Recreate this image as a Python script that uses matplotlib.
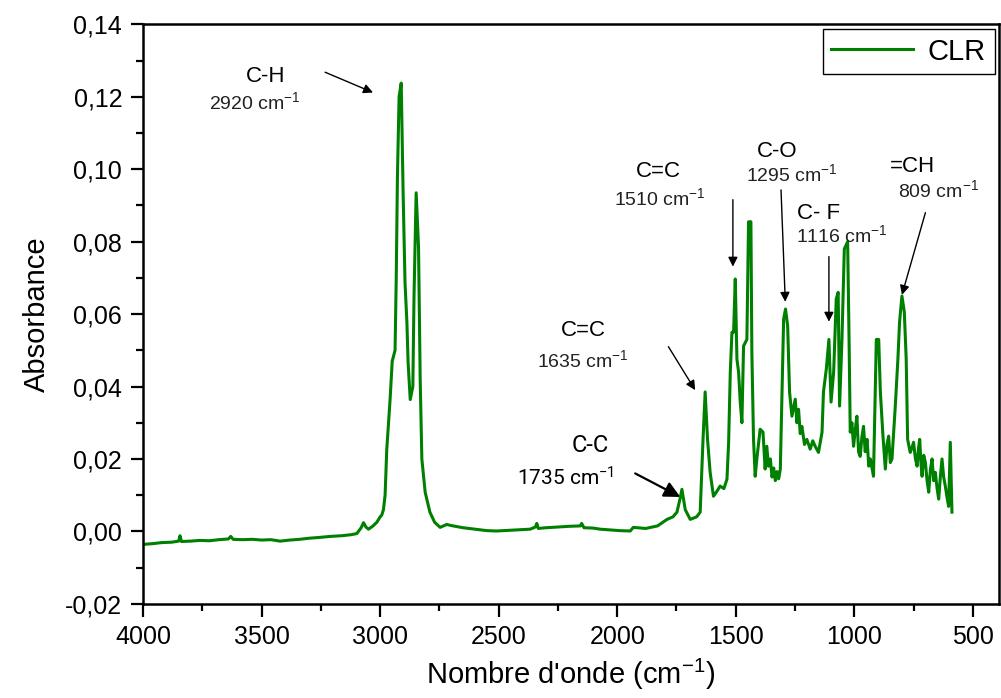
import matplotlib
matplotlib.use('Agg')
import matplotlib.pyplot as plt
from matplotlib.ticker import MultipleLocator

plt.rcParams['font.family'] = ['Liberation Sans', 'DejaVu Sans']
plt.rcParams['mathtext.default'] = 'regular'

# FTIR spectrum of CLR (wavenumber in cm-1, absorbance)
wavenumber = [
    4000, 3960, 3920, 3880, 3850, 3844, 3838, 3800, 3760, 3720, 3680, 3640, 3630, 3620,
    3580, 3540, 3500, 3460, 3422, 3380, 3340, 3300, 3260, 3211, 3160, 3120, 3098, 3080,
    3070, 3060, 3049, 3030, 3014, 3000, 2993, 2986, 2979, 2972, 2958, 2949, 2937, 2932,
    2927, 2920, 2911, 2903, 2895, 2887, 2882, 2873, 2862, 2857, 2848, 2838, 2831, 2824,
    2810, 2790, 2770, 2747, 2719, 2700, 2650, 2600, 2550, 2508, 2450, 2400, 2367, 2345,
    2339, 2333, 2300, 2250, 2200, 2156, 2150, 2140, 2100, 2072, 2030, 1990, 1945, 1932,
    1880, 1830, 1790, 1765, 1748, 1735, 1727, 1713, 1692, 1665, 1650, 1638, 1629, 1619,
    1608, 1594, 1580, 1566, 1550, 1537, 1530, 1523, 1516, 1509, 1502, 1495, 1488, 1481,
    1474, 1467, 1453, 1446, 1436, 1432, 1425, 1418, 1411, 1397, 1385, 1376, 1369, 1362,
    1354, 1347, 1340, 1333, 1326, 1319, 1312, 1305, 1298, 1290, 1281, 1273, 1263, 1249,
    1242, 1235, 1228, 1221, 1210, 1200, 1186, 1175, 1165, 1151, 1136, 1130, 1118, 1107,
    1098, 1087, 1076, 1068, 1062, 1052, 1042, 1028, 1022, 1017, 1010, 1003, 996, 989,
    982, 975, 968, 961, 954, 946, 939, 932, 919, 907, 897, 890, 879, 869,
    862, 855, 848, 841, 827, 816, 809, 799, 789, 781, 775, 764, 757, 750,
    742, 735, 729, 724, 719, 714, 707, 700, 693, 686, 679, 672, 665, 658,
    651, 644, 637, 630, 623, 616, 609, 602, 595, 588,
]
absorbance = [
    -0.0036, -0.0034, -0.0031, -0.0030, -0.0027, -0.0012, -0.0028, -0.0027, -0.0025, -0.0026, -0.0023, -0.0021, -0.0014, -0.0022,
    -0.0023, -0.0022, -0.0024, -0.0023, -0.0027, -0.0024, -0.0022, -0.0019, -0.0017, -0.0014, -0.0012, -0.0009, -0.0006, 0.0010,
    0.0024, 0.0012, 0.0006, 0.0015, 0.0025, 0.0040, 0.0045, 0.0060, 0.0100, 0.0226, 0.0364, 0.0470, 0.0500, 0.0700,
    0.0980, 0.1200, 0.1238, 0.0935, 0.0687, 0.0577, 0.0466, 0.0364, 0.0400, 0.0650, 0.0935, 0.0786, 0.0420, 0.0200,
    0.0108, 0.0053, 0.0025, 0.0011, 0.0019, 0.0016, 0.0010, 0.0006, 0.0002, 0.0001, 0.0003, 0.0005, 0.0006, 0.0012,
    0.0022, 0.0008, 0.0010, 0.0012, 0.0014, 0.0015, 0.0022, 0.0010, 0.0009, 0.0006, 0.0004, 0.0002, 0.0001, 0.0011,
    0.0008, 0.0015, 0.0033, 0.0040, 0.0053, 0.0090, 0.0116, 0.0060, 0.0033, 0.0040, 0.0053, 0.0254, 0.0385, 0.0254,
    0.0163, 0.0097, 0.0110, 0.0125, 0.0118, 0.0144, 0.0246, 0.0440, 0.0550, 0.0550, 0.0697, 0.0476, 0.0440, 0.0357,
    0.0300, 0.0512, 0.0530, 0.0855, 0.0855, 0.0495, 0.0254, 0.0152, 0.0200, 0.0282, 0.0274, 0.0172, 0.0235, 0.0180,
    0.0200, 0.0150, 0.0175, 0.0140, 0.0165, 0.0145, 0.0172, 0.0373, 0.0586, 0.0614, 0.0567, 0.0385, 0.0318, 0.0365,
    0.0300, 0.0337, 0.0270, 0.0290, 0.0240, 0.0254, 0.0227, 0.0250, 0.0235, 0.0218, 0.0274, 0.0385, 0.0448, 0.0530,
    0.0357, 0.0440, 0.0642, 0.0660, 0.0346, 0.0530, 0.0780, 0.0800, 0.0530, 0.0274, 0.0300, 0.0235, 0.0280, 0.0318,
    0.0220, 0.0207, 0.0260, 0.0290, 0.0220, 0.0254, 0.0180, 0.0200, 0.0152, 0.0530, 0.0530, 0.0385, 0.0263, 0.0172,
    0.0240, 0.0263, 0.0190, 0.0200, 0.0346, 0.0476, 0.0578, 0.0650, 0.0606, 0.0476, 0.0254, 0.0218, 0.0230, 0.0246,
    0.0200, 0.0180, 0.0230, 0.0254, 0.0190, 0.0152, 0.0210, 0.0190, 0.0140, 0.0108, 0.0170, 0.0200, 0.0140, 0.0163,
    0.0120, 0.0089, 0.0150, 0.0200, 0.0150, 0.0125, 0.0095, 0.0069, 0.0246, 0.0053,
]

x_ticks = [4000, 3500, 3000, 2500, 2000, 1500, 1000, 500]
y_ticks = [-0.02, 0.00, 0.02, 0.04, 0.06, 0.08, 0.10, 0.12, 0.14]
y_tick_labels = ['-0,02', '0,00', '0,02', '0,04', '0,06', '0,08', '0,10', '0,12', '0,14']

# (group, wavenumber label, group text pos, number text pos, arrow tail, arrow tip)
bands = [
    ('C-H', '2920', (3485, 0.1256), (3527, 0.1184), (3232, 0.1268), (3030, 0.1212)),
    ('C=C', '1510', (1827, 0.0993), (1819, 0.0921), (1512, 0.0916), (1512, 0.0731)),
    ('C-O', '1295', (1325, 0.1050), (1262, 0.0986), (1309, 0.0943), (1291, 0.0634)),
    ('C- F', '1116', (1152, 0.0878), (1051, 0.0818), (1107, 0.0759), (1107, 0.0579)),
    ('=CH', '809', (755, 0.1007), (646, 0.0943), (700, 0.0880), (799, 0.0653)),
    ('C=C', '1635', (2143, 0.0556), (2143, 0.0473), (1784, 0.0510), (1671, 0.0390)),
]

fig = plt.figure(figsize=(10.01, 6.98), dpi=100)
ax = fig.add_axes([0.1429, 0.135, 0.855, 0.83])

ax.plot(wavenumber, absorbance, color='#008000', lw=2.2, label='CLR')

ax.set_xlim(4000, 390)
ax.set_ylim(-0.02, 0.14)
ax.set_xticks(x_ticks)
ax.set_xticklabels([str(t) for t in x_ticks])
ax.set_yticks(y_ticks)
ax.set_yticklabels(y_tick_labels)
ax.xaxis.set_minor_locator(MultipleLocator(250))
ax.yaxis.set_minor_locator(MultipleLocator(0.01))

ax.tick_params(which='major', direction='out', length=9, width=1.6, labelsize=18, pad=6,
               top=False, right=False)
ax.tick_params(which='minor', direction='out', length=5, width=1.6, top=False, right=False)
for s in ax.spines.values():
    s.set_linewidth(1.8)

ax.set_xlabel("Nombre d'onde (cm$^{-1}$)", fontsize=21, labelpad=6)
ax.set_ylabel('Absorbance', fontsize=21, labelpad=10)

for group, num, gpos, npos, tail, tip in bands:
    ax.text(gpos[0], gpos[1], group, fontsize=16, ha='center', va='center')
    ax.text(npos[0], npos[1], num + ' cm$^{-1}$', fontsize=14, ha='center', va='center',
            color='#222222')
    ax.annotate('', xy=tip, xytext=tail,
                arrowprops=dict(arrowstyle='-|>', color='black', lw=1.0,
                                mutation_scale=14, shrinkA=0, shrinkB=0))

# C-C band is written in a different font in the original
ax.text(2114, 0.0238, 'C-C', fontsize=17, ha='center', va='center', family='Roboto')
ax.text(2219, 0.0147, '1735 cm$^{-1}$', fontsize=15, ha='center', va='center', family='Roboto')
ax.annotate('', xy=(1734, 0.0095), xytext=(1924, 0.0160),
            arrowprops=dict(arrowstyle='-|>', color='black', lw=1.6,
                            mutation_scale=24, shrinkA=0, shrinkB=0))

leg = ax.legend(loc='upper right', fontsize=21, frameon=True, fancybox=False,
                edgecolor='black', framealpha=1, borderaxespad=0.15, handlelength=2.8,
                borderpad=0.3, handletextpad=0.5)
leg.get_frame().set_linewidth(1.0)

plt.savefig('out.png', dpi=100)
